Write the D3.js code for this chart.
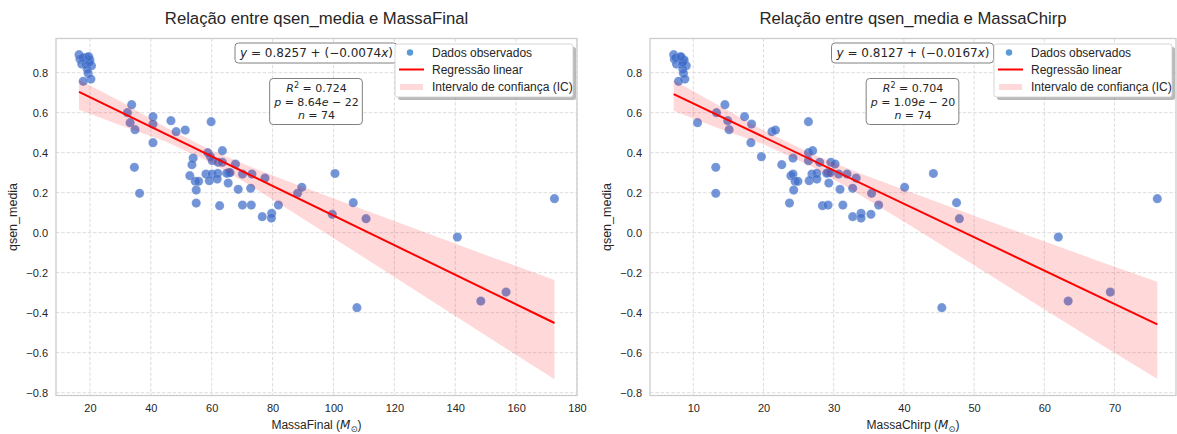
<!DOCTYPE html>
<html>
<head>
<meta charset="utf-8">
<script src="https://cdn.jsdelivr.net/npm/d3@7"></script>
<style>
  html, body { margin: 0; padding: 0; background: #fff; }
  svg { display: block; font-family: "Liberation Sans", Arial, sans-serif; }
</style>
</head>
<body>
<svg id="chart" width="1177" height="434"></svg>
<script>
// ---- observed values (one entry per event) ----
const qsenMedia = [
  0.890, 0.868, 0.877, 0.860, 0.863, 0.843, 0.843, 0.835, 0.818, 0.797, 0.768, 0.757, 0.852, 0.875, 0.880,
  0.640, 0.600, 0.550, 0.515, 0.580, 0.543, 0.450, 0.560, 0.505, 0.513, 0.555, 0.400, 0.410, 0.373, 0.380,
  0.327, 0.197, 0.340, 0.360, 0.352, 0.352, 0.343, 0.300, 0.293, 0.293, 0.273, 0.285, 0.293, 0.293, 0.297,
  0.297, 0.257, 0.257, 0.260, 0.268, 0.248, 0.213, 0.217, 0.222, 0.148, 0.135, 0.138, 0.138, 0.080, 0.097,
  0.073, 0.138, 0.197, 0.227, 0.296, 0.150, 0.070, 0.092, -0.022, 0.170, -0.375, -0.342, -0.297, 0.300
];
const massaFinal = [
  16.4, 16.7, 18.9, 19.4, 20.0, 17.3, 18.6, 20.5, 19.1, 19.4, 20.3, 17.8, 19.8, 17.6, 19.6,
  33.7, 32.3, 33.2, 34.8, 40.7, 40.7, 40.7, 46.6, 48.3, 51.3, 59.8, 58.7, 63.5, 53.9, 59.6,
  34.6, 36.3, 53.5, 60.2, 62.1, 63.5, 67.8, 65.6, 70.1, 73.2, 77.5, 52.8, 58.1, 60.1, 62.0,
  64.9, 54.6, 55.7, 59.2, 61.8, 65.4, 54.9, 68.7, 72.8, 54.9, 62.6, 70.1, 73.0, 76.6, 79.7,
  79.6, 81.9, 88.2, 89.6, 100.5, 106.5, 110.7, 99.6, 140.7, 172.6, 107.7, 148.4, 156.7, 66.0
];
const massaChirp = [
  7.2, 7.3, 8.3, 8.6, 8.7, 7.6, 8.4, 9.0, 8.5, 8.6, 8.8, 7.9, 8.5, 7.5, 8.2,
  14.5, 13.3, 10.6, 15.1, 17.3, 18.3, 18.2, 14.9, 21.2, 21.7, 26.4, 26.4, 27.0, 24.2, 19.7,
  13.2, 13.2, 22.6, 26.4, 28.0, 29.6, 30.2, 29.2, 30.7, 31.9, 33.2, 23.9, 24.2, 26.9, 27.6,
  29.0, 24.5, 24.9, 26.5, 27.6, 29.3, 24.3, 30.9, 32.7, 23.7, 28.4, 29.2, 31.3, 32.7, 33.9,
  33.9, 36.4, 35.4, 40.1, 44.2, 47.5, 47.9, 35.3, 62.0, 76.1, 45.4, 63.4, 69.4, 29.5
];

// ---- fitted models: [intercept, slope], [R², p] ----
const coefFinal = [0.8257, -0.0074];
const coefChirp = [0.8127, -0.0167];
const statsFinal = [0.724, 8.64e-22];
const statsChirp = [0.704, 1.09e-20];

// ---- confidence band of the fit ----
const bandFinalX    = [16.4, 30, 45, 60, 75, 90, 110, 130, 150, 172.6];
const bandFinalLow  = [0.615, 0.537, 0.455, 0.349, 0.214, 0.070, -0.124, -0.319, -0.514, -0.733];
const bandFinalHigh = [0.765, 0.657, 0.526, 0.411, 0.316, 0.229, 0.115, 0.002, -0.111, -0.237];
const bandChirpX    = [7.2, 13, 20, 27, 34, 41, 50, 59, 68, 76.1];
const bandChirpLow  = [0.610, 0.530, 0.442, 0.328, 0.184, 0.033, -0.163, -0.361, -0.558, -0.731];
const bandChirpHigh = [0.762, 0.648, 0.511, 0.392, 0.294, 0.202, 0.085, -0.030, -0.145, -0.245];

// ---- axis ticks ----
const xTicksFinal = [20, 40, 60, 80, 100, 120, 140, 160, 180];
const xTicksChirp = [10, 20, 30, 40, 50, 60, 70];
const yTicks = [-0.8, -0.6, -0.4, -0.2, 0.0, 0.2, 0.4, 0.6, 0.8];

const legendLabels = ["Dados observados", "Regressão linear", "Intervalo de confiança (IC)"];

// ---- layout ----
const TOP = 38.5, BOTTOM = 395.5;
const yDomain = [-0.814, 0.971];
const POINT = "#3d6cc9", LINE = "#ff0000", BAND = "#ff0000";
const TEXT = "#262626", GRID = "#d9d9d9", SPINE = "#cccccc";
const MATH = "'DejaVu Sans', sans-serif";

const panels = [
  { id: "final", left: 56, right: 577, xDomain: [8.84, 180], xs: massaFinal, xTicks: xTicksFinal,
    coef: coefFinal, stats: statsFinal, band: [bandFinalX, bandFinalLow, bandFinalHigh],
    name: "MassaFinal" },
  { id: "chirp", left: 650, right: 1176, xDomain: [3.83, 78.76], xs: massaChirp, xTicks: xTicksChirp,
    coef: coefChirp, stats: statsChirp, band: [bandChirpX, bandChirpLow, bandChirpHigh],
    name: "MassaChirp" }
];

const svg = d3.select("#chart");
const fmt4 = d3.format(".4f");
const fmt3 = d3.format(".3f");
const fmtY = d3.format(".1f");

panels.forEach(drawPanel);

function drawPanel(p) {
  const g = svg.append("g").attr("class", "panel-" + p.id);
  const x = d3.scaleLinear().domain(p.xDomain).range([p.left, p.right]);
  const y = d3.scaleLinear().domain(yDomain).range([BOTTOM, TOP]);
  const cx = (p.left + p.right) / 2;

  // plotting area + clip
  g.append("rect").attr("x", p.left).attr("y", TOP)
    .attr("width", p.right - p.left).attr("height", BOTTOM - TOP).attr("fill", "#fff");
  svg.append("clipPath").attr("id", "clip-" + p.id).append("rect")
    .attr("x", p.left).attr("y", TOP).attr("width", p.right - p.left).attr("height", BOTTOM - TOP);

  // dashed grid
  const grid = g.append("g").attr("stroke", GRID).attr("stroke-width", 0.9).attr("stroke-dasharray", "3.5,1.8");
  grid.selectAll(".gx").data(p.xTicks).join("line")
    .attr("x1", d => x(d)).attr("x2", d => x(d)).attr("y1", TOP).attr("y2", BOTTOM);
  grid.selectAll(".gy").data(yTicks).join("line")
    .attr("x1", p.left).attr("x2", p.right).attr("y1", d => y(d)).attr("y2", d => y(d));

  const plot = g.append("g").attr("clip-path", `url(#clip-${p.id})`);

  // scatter of observations
  plot.append("g").selectAll("circle").data(qsenMedia).join("circle")
    .attr("cx", (d, i) => x(p.xs[i])).attr("cy", d => y(d)).attr("r", 4.6)
    .attr("fill", POINT).attr("fill-opacity", 0.72)
    .attr("stroke", "#ffffff").attr("stroke-opacity", 0.35).attr("stroke-width", 0.5);

  // confidence band
  const [bx, blo, bhi] = p.band;
  const area = d3.area().x(d => x(d[0])).y0(d => y(d[1])).y1(d => y(d[2]));
  plot.append("path").datum(bx.map((v, i) => [v, blo[i], bhi[i]]))
    .attr("d", area).attr("fill", BAND).attr("fill-opacity", 0.15);

  // regression line
  const [b0, b1] = p.coef;
  const ext = d3.extent(p.xs);
  const line = d3.line().x(d => x(d)).y(d => y(b0 + b1 * d));
  plot.append("path").datum(ext).attr("d", line)
    .attr("fill", "none").attr("stroke", LINE).attr("stroke-width", 2);

  // frame
  g.append("rect").attr("x", p.left).attr("y", TOP)
    .attr("width", p.right - p.left).attr("height", BOTTOM - TOP)
    .attr("fill", "none").attr("stroke", SPINE).attr("stroke-width", 1.3);

  // axes
  const ax = g.append("g").attr("transform", `translate(0,${BOTTOM})`)
    .call(d3.axisBottom(x).tickValues(p.xTicks).tickSize(0).tickPadding(9).tickFormat(d3.format("d")));
  const ay = g.append("g").attr("transform", `translate(${p.left},0)`)
    .call(d3.axisLeft(y).tickValues(yTicks).tickSize(0).tickPadding(8).tickFormat(fmtY));
  [ax, ay].forEach(a => {
    a.select(".domain").remove();
    a.selectAll("text").attr("fill", TEXT).style("font-size", "11px")
      .style("font-family", "'Liberation Sans', Arial, sans-serif");
  });

  // axis titles
  const xl = g.append("text").attr("x", cx).attr("y", 429).attr("text-anchor", "middle")
    .attr("fill", TEXT).style("font-size", "12px");
  xl.append("tspan").text(p.name + " (");
  xl.append("tspan").style("font-family", MATH).style("font-style", "italic").text("M");
  xl.append("tspan").style("font-family", MATH).style("font-size", "8.5px").attr("dy", 3).text("\u2299");
  xl.append("tspan").attr("dy", -3).text(")");

  g.append("text").attr("transform", `translate(${p.left - 39},${(TOP + BOTTOM) / 2}) rotate(-90)`)
    .attr("text-anchor", "middle").attr("fill", TEXT).style("font-size", "12.5px").text("qsen_media");

  // title
  g.append("text").attr("x", cx).attr("y", 24).attr("text-anchor", "middle")
    .attr("fill", TEXT).style("font-size", "16.7px")
    .text(`Relação entre qsen_media e ${p.name}`);

  // fitted equation box
  const eqG = g.append("g");
  const eq = eqG.append("text").attr("x", cx).attr("y", 57).attr("text-anchor", "middle")
    .attr("fill", TEXT).style("font-family", MATH).style("font-size", "12px");
  eq.append("tspan").style("font-style", "italic").text("y");
  eq.append("tspan").text(` = ${fmt4(b0)} + (${fmt4(b1)}`);
  eq.append("tspan").style("font-style", "italic").text("x");
  eq.append("tspan").text(")");
  boxAround(eqG, eq, 4, 3, "#808080");

  // statistics box
  const [r2, pv] = p.stats;
  const ex = Math.floor(Math.log10(pv));
  const mant = (pv / Math.pow(10, ex)).toFixed(2);
  const stG = g.append("g");
  const st = stG.append("text").attr("text-anchor", "middle").attr("fill", TEXT)
    .style("font-family", MATH).style("font-size", "11px");
  const l1 = st.append("tspan").attr("x", cx).attr("y", 92);
  l1.append("tspan").style("font-style", "italic").text("R");
  l1.append("tspan").attr("dy", -4).style("font-size", "8px").text("2");
  l1.append("tspan").attr("dy", 4).text(` = ${fmt3(r2)}`);
  const l2 = st.append("tspan").attr("x", cx).attr("y", 105.5);
  l2.append("tspan").style("font-style", "italic").text("p");
  l2.append("tspan").text(` = ${mant}`);
  l2.append("tspan").style("font-style", "italic").text("e");
  l2.append("tspan").text(` \u2212 ${Math.abs(ex)}`);
  const l3 = st.append("tspan").attr("x", cx).attr("y", 119);
  l3.append("tspan").style("font-style", "italic").text("n");
  l3.append("tspan").text(` = ${qsenMedia.length}`);
  boxAround(stG, st, 3.5, 2.5, "#808080");

  // legend
  const lw = 178, lh = 53;
  const lx = p.right - 4 - lw, ly = 44;
  const lg = g.append("g");
  lg.append("rect").attr("x", lx + 3).attr("y", ly + 3).attr("width", lw).attr("height", lh)
    .attr("rx", 2.5).attr("fill", "#7f7f7f").attr("fill-opacity", 0.55);
  lg.append("rect").attr("x", lx).attr("y", ly).attr("width", lw).attr("height", lh)
    .attr("rx", 2.5).attr("fill", "#fff").attr("stroke", "#d0d0d0").attr("stroke-width", 0.9);
  const rows = [ly + 8.5, ly + 25.5, ly + 43];
  lg.append("circle").attr("cx", lx + 15).attr("cy", rows[0]).attr("r", 3.2).attr("fill", "#5b9bd5");
  lg.append("line").attr("x1", lx + 4).attr("x2", lx + 29).attr("y1", rows[1]).attr("y2", rows[1])
    .attr("stroke", LINE).attr("stroke-width", 2);
  lg.append("rect").attr("x", lx + 5).attr("y", rows[2] - 3).attr("width", 23).attr("height", 6)
    .attr("fill", BAND).attr("fill-opacity", 0.15);
  lg.selectAll(".lt").data(legendLabels).join("text")
    .attr("x", lx + 37).attr("y", (d, i) => rows[i] + 4.2)
    .attr("fill", TEXT).style("font-size", "12px").text(d => d);
}

function boxAround(group, textSel, padX, padY, stroke) {
  const bb = textSel.node().getBBox();
  group.insert("rect", "text")
    .attr("x", bb.x - padX).attr("y", bb.y - padY)
    .attr("width", bb.width + 2 * padX).attr("height", bb.height + 2 * padY)
    .attr("rx", 3.5).attr("fill", "#fff").attr("stroke", stroke).attr("stroke-width", 1);
}
</script>
</body>
</html>
